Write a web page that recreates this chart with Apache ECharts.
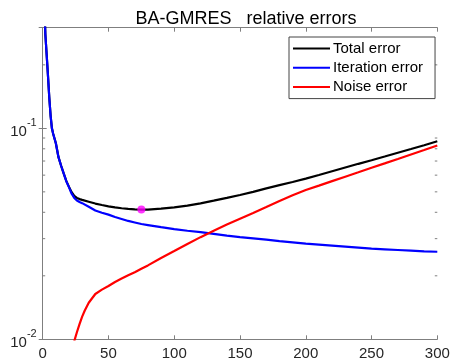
<!DOCTYPE html>
<html><head><meta charset="utf-8">
<script src="https://cdn.jsdelivr.net/npm/echarts@6/dist/echarts.min.js"></script>
<style>html,body{margin:0;padding:0;background:#fff}#c{width:453px;height:364px}</style>
</head><body><div id="c"></div>
<script>
const titleText = 'BA-GMRES   relative errors';
const seriesNames = ['Total error', 'Iteration error', 'Noise error'];
const xTicks = [0, 50, 100, 150, 200, 250, 300];
const yMajorTicks = [0.01, 0.1];
const yMinorTicks = [0.02,0.03,0.04,0.05,0.06,0.07,0.08,0.09,0.2];
const iters = [1,2,3,4,5,6,7,8,10,12,14,16,18,20,22,24,26,28,30,35,40,45,50,55,60,65,70,75,80,90,100,110,120,130,140,150,160,170,180,190,200,210,220,230,240,250,260,270,280,290,300];
const totalError = [0.45,0.28,0.224,0.178,0.14,0.115,0.1,0.094,0.085,0.073,0.0665,0.061,0.0562,0.0528,0.0498,0.0478,0.0468,0.0462,0.0458,0.0449,0.0440,0.0433,0.0427,0.0422,0.0418,0.0415,0.0413,0.0412,0.0412,0.0416,0.0422,0.0430,0.0441,0.0454,0.0468,0.0483,0.0500,0.0519,0.0538,0.0557,0.0578,0.0601,0.0626,0.0652,0.0679,0.0706,0.0735,0.0766,0.0798,0.0832,0.0868];
const iterationError = [0.45,0.28,0.224,0.178,0.14,0.115,0.1,0.094,0.085,0.073,0.0665,0.061,0.056,0.0525,0.049,0.0468,0.0455,0.0448,0.0442,0.0425,0.0408,0.0398,0.039,0.038,0.0372,0.0364,0.0358,0.0352,0.0348,0.034,0.0333,0.0327,0.0322,0.0316,0.0310,0.0305,0.0301,0.0297,0.0292,0.0288,0.0284,0.0281,0.0278,0.0275,0.0272,0.0269,0.0267,0.0265,0.0263,0.0261,0.0260];
const noiseIters = [18,20,22,24,26,28,30,32,35,40,45,50,55,60,65,70,75,80,90,100,110,120,130,140,150,160,170,180,190,200,210,220,230,240,250,260,270,280,290,300];
const noiseError = [0.0075,0.0082,0.009,0.0098,0.0108,0.0118,0.0128,0.0137,0.0149,0.0164,0.0172,0.0179,0.0187,0.0194,0.0201,0.0208,0.0216,0.0224,0.0243,0.0262,0.0283,0.0305,0.0327,0.0350,0.0373,0.0397,0.0424,0.0453,0.0482,0.0510,0.0535,0.0562,0.0590,0.0619,0.0650,0.0682,0.0716,0.0752,0.0789,0.0829];
const optimum = [75, 0.0412];

const zip = (xs, ys) => xs.map((x, i) => [x, ys[i]]);
const axisGray = '#7f7f7f';
const labelColor = '#262626';
const FONT = '"Liberation Sans", Arial, sans-serif';

const isMajor = v => yMajorTicks.some(t => Math.abs(v - t) / t < 1e-6);

const chart = echarts.init(document.getElementById('c'), null, {renderer: 'canvas'});
const yAxisBase = {
  type: 'log', logBase: 10, min: 0.01, max: 0.3,
  axisLine: {show: true, lineStyle: {color: axisGray, width: 1}},
  axisTick: {show: true, inside: true, length: 4, lineStyle: {color: axisGray}},
  splitLine: {show: false}, minorTick: {show: false}
};
chart.setOption({
  animation: false,
  backgroundColor: '#fff',
  title: {text: titleText, left: 241, textAlign: 'center', top: 5,
    textStyle: {fontFamily: FONT, fontSize: 18, fontWeight: 'normal', color: '#000'}},
  grid: {left: 42.7, right: 15.7, top: 27.7, bottom: 24.7, containLabel: false},
  legend: {
    data: seriesNames, orient: 'vertical', left: 289, top: 37,
    icon: 'rect', itemWidth: 37, itemHeight: 2, itemGap: 4.3,
    padding: [4, 12, 4, 4], borderColor: '#444', borderWidth: 1, backgroundColor: '#fff',
    textStyle: {fontFamily: FONT, fontSize: 15, color: '#000', padding: [0,0,0,-2]}
  },
  xAxis: [{
    type: 'value', min: 0, max: 300, interval: 50,
    axisLine: {show: true, onZero: false, lineStyle: {color: axisGray}},
    axisTick: {show: true, inside: true, length: 4, lineStyle: {color: axisGray}},
    axisLabel: {color: labelColor, fontFamily: FONT, fontSize: 15, margin: 7,
      formatter: v => xTicks.includes(v) ? String(v) : ''},
    splitLine: {show: false}
  }, {
    type: 'value', min: 0, max: 300, interval: 50, position: 'top',
    axisLine: {show: true, onZero: false, lineStyle: {color: axisGray}},
    axisTick: {show: true, inside: true, length: 4, lineStyle: {color: axisGray}},
    axisLabel: {show: false}, splitLine: {show: false}
  }],
  yAxis: [Object.assign({}, yAxisBase, {
    position: 'left',
    axisLabel: {margin: 6, color: labelColor, fontFamily: FONT, showMaxLabel: false,
      formatter: v => isMajor(v) ? '{b|10}{s|' + Math.round(Math.log10(v)) + '}' : '',
      rich: {
        b: {fontSize: 15, fontFamily: FONT, color: labelColor, padding: [7,0,0,0], verticalAlign: 'bottom'},
        s: {fontSize: 11, fontFamily: FONT, color: labelColor, verticalAlign: 'top'}
      }}
  }), Object.assign({}, yAxisBase, {position: 'right', axisLabel: {show: false}})],
  series: [
    {name: seriesNames[0], type: 'line', data: zip(iters, totalError), showSymbol: false, symbol: 'none',
      lineStyle: {color: '#000', width: 2.2}, itemStyle: {color: '#000'}, clip: true},
    {name: seriesNames[1], type: 'line', data: zip(iters, iterationError), showSymbol: false, symbol: 'none',
      lineStyle: {color: '#0000ff', width: 2.2}, itemStyle: {color: '#0000ff'}, clip: true},
    {name: seriesNames[2], type: 'line', data: zip(noiseIters, noiseError), showSymbol: false, symbol: 'none',
      lineStyle: {color: '#ff0000', width: 2.2}, itemStyle: {color: '#ff0000'}, clip: true},
    {name: 'optimum', type: 'scatter', data: [optimum], symbol: 'circle', symbolSize: 8,
      itemStyle: {color: '#ff00ff'}, z: 5},
    {name: 'minorTicks', type: 'custom', silent: true, clip: false,
      data: yMinorTicks.map(v => [0, v]),
      encode: {x: 0, y: 1},
      renderItem: (params, api) => {
        const v = api.value(1);
        const pl = api.coord([0, v]);
        const pr = api.coord([300, v]);
        const st = {stroke: axisGray, lineWidth: 1};
        return {type: 'group', children: [
          {type: 'line', shape: {x1: pl[0], y1: pl[1], x2: pl[0] + 2.5, y2: pl[1]}, style: st},
          {type: 'line', shape: {x1: pr[0], y1: pr[1], x2: pr[0] - 2.5, y2: pr[1]}, style: st}
        ]};
      }}
  ]
});
</script></body></html>
